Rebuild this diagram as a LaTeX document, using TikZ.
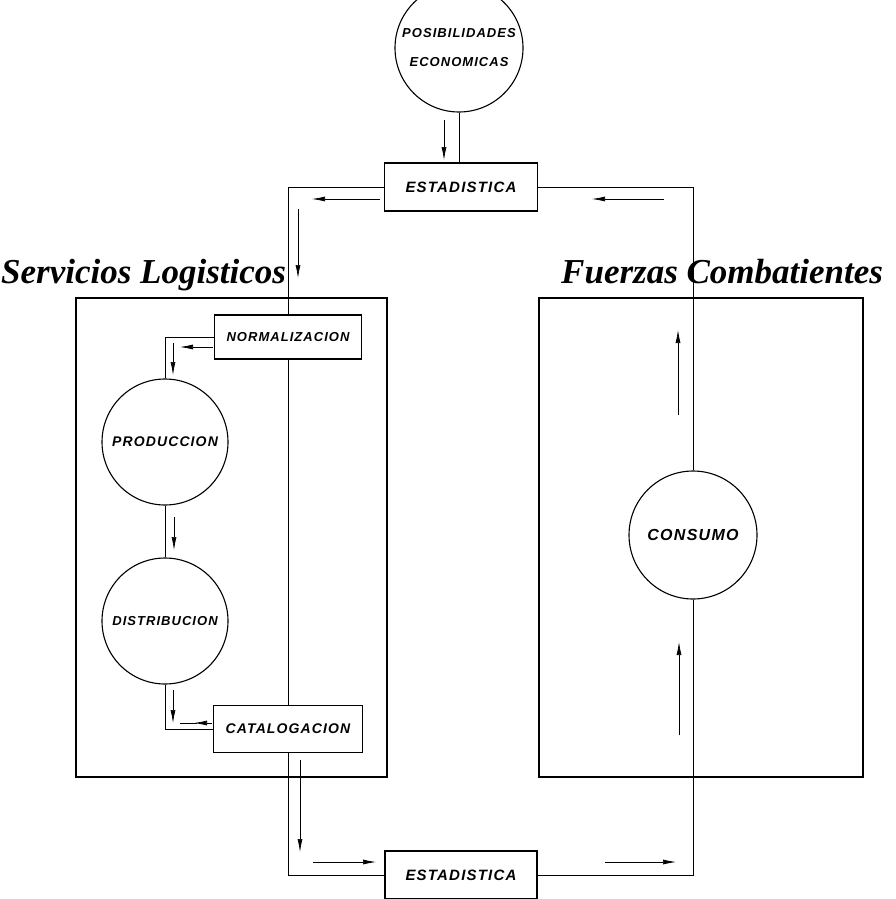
\documentclass[tikz,border=0pt]{standalone}
\usepackage{fontspec}
\setmainfont{Liberation Sans}
\newfontfamily\rotulo[LetterSpace=8]{Liberation Sans}
\newfontfamily\titulo{Liberation Serif}
\usetikzlibrary{arrows.meta}

\begin{document}
\begin{tikzpicture}[x=1pt,y=-1pt,>={Latex[length=13pt,width=5pt]},
    caja/.style={draw,line width=1.1pt,inner sep=0pt},
    rect/.style={caja,rectangle},
    circ/.style={caja,circle},
    etiq/.style={font=\rotulo\bfseries\itshape\fontsize{14}{15}\selectfont},
    linea/.style={line width=0.7pt},
    flecha/.style={line width=0.7pt,->},
    marco/.style={line width=1.4pt},
    tit/.style={font=\titulo\bfseries\itshape\fontsize{35}{35}\selectfont,inner sep=0pt,anchor=base west}]
    \useasboundingbox (0,0) rectangle (895,899);
    % recuadros
    \draw[marco] (76,298) rectangle (387,777);
    \draw[marco] (539,298) rectangle (863,777);
    \node[tit] (tsvc) at (1,283) {Servicios Logisticos};
    \node[tit] (tfzc) at (561,283) {Fuerzas Combatientes};
    % nodos
    \node[circ,etiq,minimum size=128pt,align=center,font=\rotulo\bfseries\itshape\fontsize{13}{15}\selectfont] (pos) at (459,48) {POSIBILIDADES\\[14pt]ECONOMICAS};
    \node[rect,etiq,minimum width=153pt,minimum height=48pt,font=\rotulo\bfseries\itshape\fontsize{15}{15}\selectfont] (est1) at (461,187) {ESTADISTICA};
    \node[rect,etiq,minimum width=147pt,minimum height=44pt,font=\rotulo\bfseries\itshape\fontsize{13}{15}\selectfont] (norm) at (288,337) {NORMALIZACION};
    \node[circ,etiq,minimum size=126pt] (prod) at (165,442) {PRODUCCION};
    \node[circ,etiq,minimum size=126pt,font=\rotulo\bfseries\itshape\fontsize{13}{15}\selectfont] (dist) at (165,621) {DISTRIBUCION};
    \node[rect,etiq,minimum width=149pt,minimum height=47pt] (cat) at (288,729) {CATALOGACION};
    \node[rect,etiq,minimum width=152pt,minimum height=48pt,font=\rotulo\bfseries\itshape\fontsize{15}{15}\selectfont] (est2) at (461,875) {ESTADISTICA};
    \node[circ,etiq,minimum size=128pt,font=\rotulo\bfseries\itshape\fontsize{16}{16}\selectfont] (cons) at (693,535) {CONSUMO};
    % lineas
    \draw[linea] (pos.south) -- (pos.south |- est1.north);
    \draw[linea] (est1.west) -| (norm.north);
    \draw[linea] (norm.south) -- (cat.north);
    \draw[linea] (norm.west) -| (prod.north);
    \draw[linea] (prod.south) -- (dist.north);
    \draw[linea] (dist.south) |- (cat.west);
    \draw[linea] (cat.south) |- (est2.west);
    \draw[linea] (est2.east) -| (cons.south);
    \draw[linea] (cons.north) |- (est1.east);
    % flechas
    \draw[flecha] (444,120) -- (444,160);
    \draw[flecha] (380,199) -- (312,199);
    \draw[flecha] (664,199) -- (592,199);
    \draw[flecha] (298,209) -- (298,278);
    \draw[flecha] (213,347) -- (180,347);
    \draw[flecha] (173,343) -- (173,375);
    \draw[flecha] (174,517) -- (174,550);
    \draw[flecha] (173,690) -- (173,723);
    \draw[flecha] (212,723) -- (194,723);
    \draw[linea] (197,723) -- (180,723);
    \draw[flecha] (300,760) -- (300,852);
    \draw[flecha] (313,862) -- (376,862);
    \draw[flecha] (605,862) -- (676,862);
    \draw[flecha] (679,735) -- (679,642);
    \draw[flecha] (678,415) -- (678,330);
\end{tikzpicture}
\end{document}
